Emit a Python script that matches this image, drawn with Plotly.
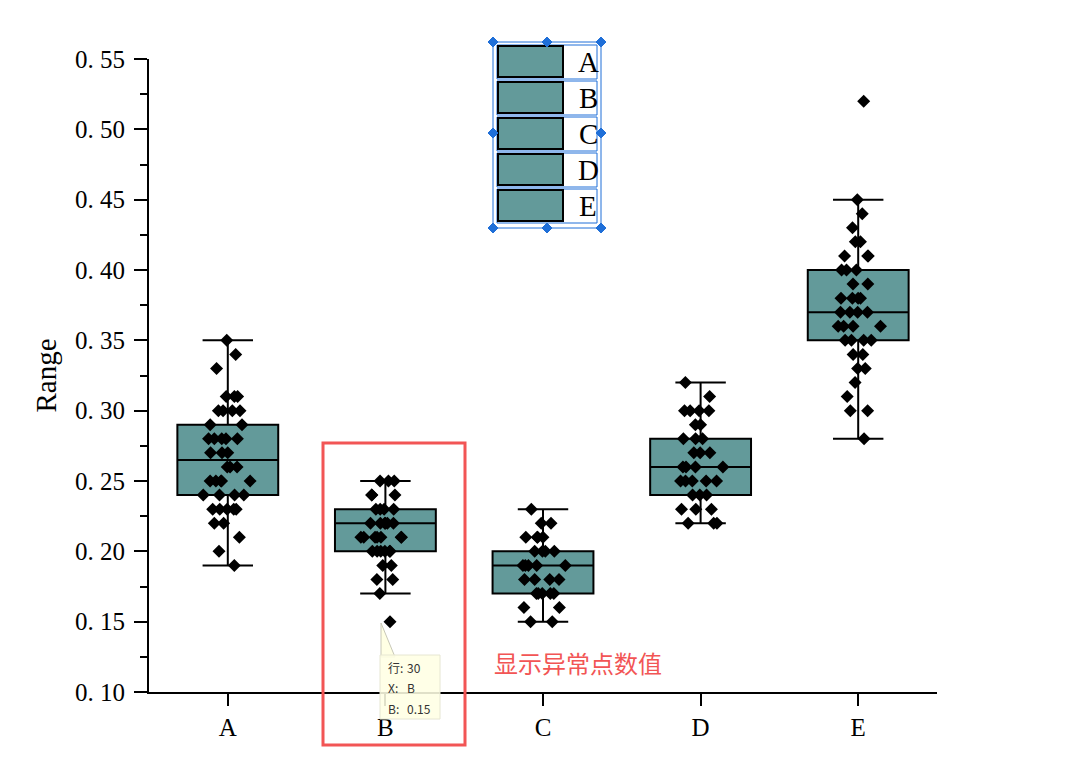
import plotly.graph_objects as go

# ---------------- data ----------------
categories = ["A", "B", "C", "D", "E"]

values_A = [0.35, 0.34, 0.33, 0.31, 0.31, 0.31, 0.30, 0.30, 0.30, 0.30, 0.29, 0.29,
            0.28, 0.28, 0.28, 0.28, 0.28, 0.27, 0.27, 0.27, 0.26, 0.26, 0.26,
            0.25, 0.25, 0.25, 0.25, 0.25, 0.24, 0.24, 0.24, 0.24,
            0.23, 0.23, 0.23, 0.23, 0.23, 0.22, 0.22, 0.21, 0.20, 0.19]
values_B = [0.25, 0.25, 0.25, 0.24, 0.24, 0.24, 0.23, 0.23, 0.23, 0.23,
            0.22, 0.22, 0.22, 0.22, 0.22, 0.22, 0.21, 0.21, 0.21, 0.21, 0.21, 0.21, 0.21,
            0.20, 0.20, 0.20, 0.20, 0.20, 0.20, 0.19, 0.19, 0.18, 0.18, 0.17, 0.15]
values_C = [0.23, 0.22, 0.22, 0.21, 0.21, 0.21, 0.21, 0.20, 0.20, 0.20, 0.20,
            0.19, 0.19, 0.19, 0.19, 0.19, 0.18, 0.18, 0.18, 0.18,
            0.17, 0.17, 0.17, 0.17, 0.17, 0.16, 0.16, 0.15, 0.15]
values_D = [0.32, 0.31, 0.30, 0.30, 0.30, 0.30, 0.29, 0.29, 0.28, 0.28, 0.28,
            0.27, 0.27, 0.27, 0.26, 0.26, 0.26, 0.26, 0.25, 0.25, 0.25, 0.25, 0.25,
            0.24, 0.24, 0.24, 0.23, 0.23, 0.23, 0.22, 0.22, 0.22]
values_E = [0.52, 0.45, 0.44, 0.43, 0.42, 0.42, 0.41, 0.41, 0.41, 0.40, 0.40, 0.40,
            0.39, 0.39, 0.38, 0.38, 0.38, 0.38, 0.37, 0.37, 0.37, 0.37,
            0.36, 0.36, 0.36, 0.36, 0.35, 0.35, 0.35, 0.35, 0.34, 0.34,
            0.33, 0.33, 0.32, 0.31, 0.30, 0.30, 0.28]
all_values = [values_A, values_B, values_C, values_D, values_E]

# box statistics as shown in the chart
q1_vals = [0.24, 0.20, 0.17, 0.24, 0.35]
median_vals = [0.265, 0.22, 0.19, 0.26, 0.37]
q3_vals = [0.29, 0.23, 0.20, 0.28, 0.40]
lower_whisker = [0.19, 0.17, 0.15, 0.22, 0.28]
upper_whisker = [0.35, 0.25, 0.23, 0.32, 0.45]

ytick_vals = [0.10, 0.15, 0.20, 0.25, 0.30, 0.35, 0.40, 0.45, 0.50, 0.55]
ytick_text = ["0. 10", "0. 15", "0. 20", "0. 25", "0. 30", "0. 35", "0. 40", "0. 45", "0. 50", "0. 55"]

tooltip_labels = ["行:", "X:", "B:"]
tooltip_values = ["30", "B", "0.15"]
note_text = "显示异常点数值"

# ---------------- styling ----------------
W, H = 1091, 777
L, R, T, B = 149, 154, 59, 85
PW, PH = W - L - R, H - T - B
FILL = "#639A9A"
RED = "#F25555"
BLUE = "#1F6FD8"
SERIF = "Liberation Serif, DejaVu Serif, serif"
CJK = "Noto Sans CJK SC, sans-serif"


def px(x):
    return (x - L) / PW


def py(y):
    return (H - B - y) / PH


fig = go.Figure()

# boxes (precomputed stats)
fig.add_trace(go.Box(
    x=categories, q1=q1_vals, median=median_vals, q3=q3_vals,
    lowerfence=lower_whisker, upperfence=upper_whisker,
    fillcolor=FILL, line=dict(color="black", width=2),
    width=0.64, whiskerwidth=0.5, boxpoints=False, showlegend=False,
    hoverinfo="skip",
))

# jittered points
for cat, vals in zip(categories, all_values):
    fig.add_trace(go.Box(
        x=[cat] * len(vals), y=vals, boxpoints="all", jitter=0.5, pointpos=0,
        fillcolor="rgba(0,0,0,0)", line=dict(width=0, color="rgba(0,0,0,0)"),
        width=0.64, whiskerwidth=0,
        marker=dict(symbol="diamond", size=10, color="black"),
        showlegend=False,
    ))

shapes = []
annotations = []

# custom legend
shapes.append(dict(type="rect", xref="paper", yref="paper",
                   x0=px(493), x1=px(601), y0=py(228), y1=py(42),
                   line=dict(color=BLUE, width=1), fillcolor="rgba(0,0,0,0)", layer="above"))
for i, cat in enumerate(categories):
    top = 45 + i * 36
    shapes.append(dict(type="rect", xref="paper", yref="paper",
                       x0=px(497), x1=px(597), y0=py(top + 34), y1=py(top),
                       line=dict(color=BLUE, width=1), fillcolor="white", layer="above"))
    shapes.append(dict(type="rect", xref="paper", yref="paper",
                       x0=px(498), x1=px(563), y0=py(top + 32), y1=py(top + 1),
                       line=dict(color="black", width=2), fillcolor=FILL, layer="above"))
    annotations.append(dict(xref="paper", yref="paper", x=px(588), y=py(top + 17),
                            text=cat, showarrow=False, xanchor="center", yanchor="middle",
                            font=dict(family=SERIF, size=29, color="black")))
# selection handles
for hx, hy in [(493, 42), (547, 42), (601, 42), (493, 133), (601, 133),
               (493, 228), (547, 228), (601, 228)]:
    d = 5
    path = (f"M {px(hx)},{py(hy - d)} L {px(hx + d)},{py(hy)} "
            f"L {px(hx)},{py(hy + d)} L {px(hx - d)},{py(hy)} Z")
    shapes.append(dict(type="path", xref="paper", yref="paper", path=path,
                       fillcolor=BLUE, line=dict(color=BLUE, width=1), layer="above"))

# red highlight rectangle
shapes.append(dict(type="rect", xref="paper", yref="paper",
                   x0=px(323), x1=px(465), y0=py(745), y1=py(443),
                   line=dict(color=RED, width=3), fillcolor="rgba(0,0,0,0)", layer="above"))

# tooltip wedge and box
shapes.append(dict(type="path", xref="paper", yref="paper",
                   path=f"M {px(381)},{py(623)} L {px(381)},{py(657)} L {px(395)},{py(657)} Z",
                   fillcolor="#FFFFE4", line=dict(color="#C8C8B8", width=1), layer="above"))
shapes.append(dict(type="rect", xref="paper", yref="paper",
                   x0=px(380), x1=px(440), y0=py(719), y1=py(655),
                   fillcolor="rgba(255,255,228,0.88)", line=dict(color="#E6E6D2", width=1),
                   layer="above"))
for i, (lab, val) in enumerate(zip(tooltip_labels, tooltip_values)):
    yy = 667 + i * 20.5
    annotations.append(dict(xref="paper", yref="paper", x=px(386), y=py(yy),
                            xanchor="left", yanchor="middle", showarrow=False, text=lab,
                            font=dict(family=CJK, size=12, color="#333333")))
    annotations.append(dict(xref="paper", yref="paper", x=px(405), y=py(yy),
                            xanchor="left", yanchor="middle", showarrow=False, text=val,
                            font=dict(family=CJK, size=12, color="#333333")))

# red note
annotations.append(dict(xref="paper", yref="paper", x=px(578), y=py(662),
                        xanchor="center", yanchor="middle", showarrow=False,
                        text=note_text,
                        font=dict(family=CJK, size=24, color=RED)))

fig.update_layout(
    width=W, height=H,
    margin=dict(l=L, r=R, t=T, b=B, pad=0),
    paper_bgcolor="white", plot_bgcolor="white",
    boxmode="overlay",
    shapes=shapes, annotations=annotations,
    showlegend=False,
    font=dict(family=SERIF, color="black"),
)
fig.update_xaxes(
    type="category", categoryorder="array", categoryarray=categories,
    range=[-0.5, 4.5], showline=True, linecolor="black", linewidth=2,
    ticks="outside", ticklen=12, tickwidth=2, tickcolor="black",
    ticklabelstandoff=0,
    showgrid=False, zeroline=False,
    tickfont=dict(family=SERIF, size=25, color="black"),
)
fig.update_yaxes(
    range=[0.10, 0.55], tickvals=ytick_vals, ticktext=ytick_text,
    showline=True, linecolor="black", linewidth=2,
    ticks="outside", ticklen=13, tickwidth=2, tickcolor="black",
    ticklabelstandoff=4,
    minor=dict(ticks="outside", ticklen=7, tickwidth=2, tickcolor="black", dtick=0.025, tick0=0.1, showgrid=False),
    showgrid=False, zeroline=False,
    tickfont=dict(family=SERIF, size=25, color="black"),
    title=dict(text="Range", font=dict(family=SERIF, size=29, color="black"), standoff=10),
)

fig.write_html("out.html", config={"displayModeBar": False},
               post_script="document.body.style.margin='0';document.body.style.overflow='hidden';")
